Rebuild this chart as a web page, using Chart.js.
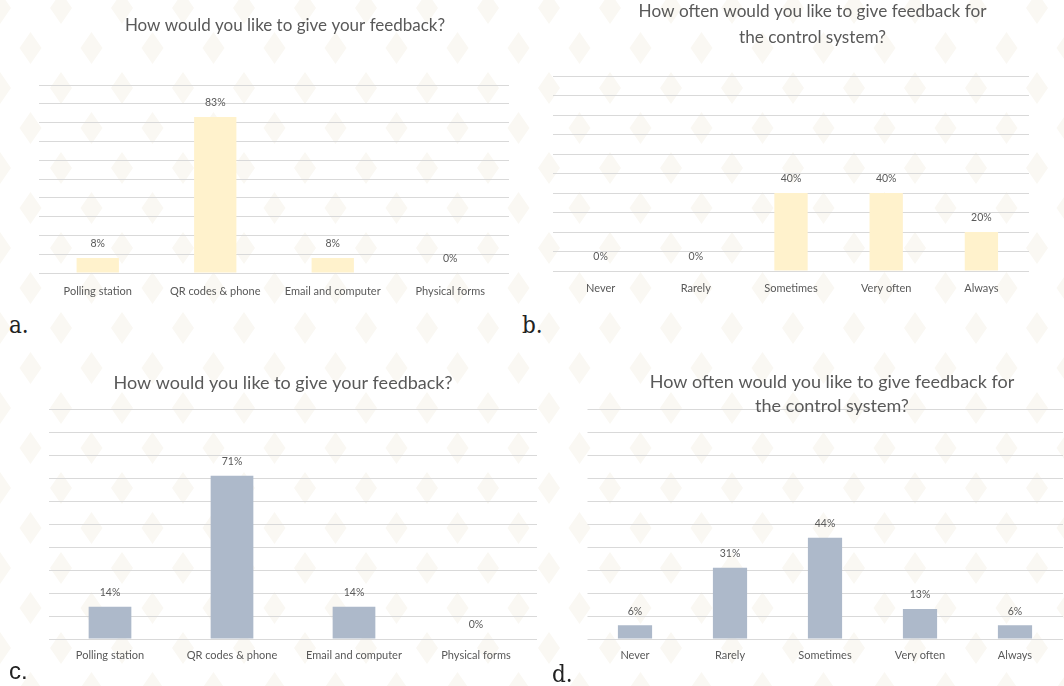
<!DOCTYPE html>
<html>
<head>
<meta charset="utf-8">
<script src="https://cdn.jsdelivr.net/npm/chart.js@4.4.0/dist/chart.umd.min.js"></script>
<style>
  html, body { margin: 0; padding: 0; width: 1064px; height: 686px; overflow: hidden; }
  body {
    position: relative;
    background-color: #fff;
    background-image: url("data:image/svg+xml,%3Csvg xmlns='http://www.w3.org/2000/svg' width='61' height='80'%3E%3Cg fill='%23faf8f3'%3E%3Cpath d='M0 -8L11 8L0 24L-11 8Z'/%3E%3Cpath d='M61 -8L72 8L61 24L50 8Z'/%3E%3Cpath d='M0 72L11 88L0 104L-11 88Z'/%3E%3Cpath d='M61 72L72 88L61 104L50 88Z'/%3E%3Cpath d='M30.5 32L41.5 48L30.5 64L19.5 48Z'/%3E%3C/g%3E%3C/svg%3E");
  }
  canvas { position: absolute; }
  .tag { position: absolute; font-size: 24px; line-height: 1; color: #222; }
  .serif { font-family: "DejaVu Serif Condensed", "DejaVu Serif", serif; }
  .sans { font-family: "Liberation Sans", Arial, sans-serif; }
</style>
</head>
<body>
<canvas id="chartA" width="532" height="310" style="left:0px; top:0px;"></canvas>
<canvas id="chartB" width="560" height="330" style="left:532px; top:-20px;"></canvas>
<canvas id="chartC" width="545" height="343" style="left:0px; top:343px;"></canvas>
<canvas id="chartD" width="550" height="343" style="left:532px; top:343px;"></canvas>

<div class="tag serif" style="left:9px; top:313px;">a.</div>
<div class="tag serif" style="left:522px; top:313px;">b.</div>
<div class="tag sans" style="left:9px; top:659px;">c.</div>
<div class="tag serif" style="left:552px; top:662px;">d.</div>

<script>
// survey answers, in percent
const channelLabels = ['Polling station', 'QR codes & phone', 'Email and computer', 'Physical forms'];
const frequencyLabels = ['Never', 'Rarely', 'Sometimes', 'Very often', 'Always'];

const aValues = [8, 83, 8, 0];
const bValues = [0, 0, 40, 40, 20];
const cValues = [14, 71, 14, 0];
const dValues = [6, 31, 44, 13, 6];

const channelTitle = 'How would you like to give your feedback?';
const frequencyTitle = ['How often would you like to give feedback for', 'the control system?'];

const yMax = 100;
const yStep = 10;

const yellow = '#fff2cc';
const slate = '#adb9ca';
const textGray = '#595959';

// percent label above each bar
const barValueLabels = {
  id: 'barValueLabels',
  afterDatasetsDraw(chart) {
    const ctx = chart.ctx;
    const values = chart.data.datasets[0].data;
    ctx.save();
    ctx.font = '10.5px Lato';
    ctx.fillStyle = textGray;
    ctx.textAlign = 'center';
    ctx.textBaseline = 'middle';
    chart.getDatasetMeta(0).data.forEach((bar, i) => {
      ctx.fillText(values[i] + '%', bar.x, bar.y - 14);
    });
    ctx.restore();
  }
};

function makeChart(id, labels, values, color, title, g) {
  return new Chart(document.getElementById(id), {
    type: 'bar',
    data: {
      labels: labels,
      datasets: [{
        data: values,
        backgroundColor: color,
        barPercentage: g.bar,
        categoryPercentage: 1
      }]
    },
    options: {
      responsive: false,
      animation: false,
      layout: { padding: g.pad },
      plugins: {
        legend: { display: false },
        tooltip: { enabled: false },
        title: {
          display: true,
          text: title,
          color: textGray,
          font: { family: 'Lato', size: g.titleSize, lineHeight: g.titleLine, weight: 'normal' },
          padding: g.titlePad
        }
      },
      scales: {
        x: {
          grid: { display: false, drawTicks: false },
          border: { display: false },
          ticks: {
            color: textGray,
            font: { family: 'Lato', size: g.tickSize },
            padding: g.tickPad,
            maxRotation: 0,
            autoSkip: false
          }
        },
        y: {
          position: g.yPos,
          min: 0,
          max: yMax,
          ticks: { display: false, stepSize: yStep },
          grid: { color: '#d9d9d9', lineWidth: 1, drawTicks: false },
          border: { display: false },
          afterFit(scale) { scale.width = g.yWidth; }
        }
      }
    },
    plugins: [barValueLabels]
  });
}

makeChart('chartA', channelLabels, aValues, yellow, channelTitle, {
  bar: 0.36, pad: { left: 39, right: 1, top: 0, bottom: 1 },
  yPos: 'right', yWidth: 22,
  titleSize: 17, titleLine: 1.2, titlePad: { top: 15, bottom: 49.6 },
  tickSize: 11, tickPad: 11.4
});

makeChart('chartB', frequencyLabels, bValues, yellow, frequencyTitle, {
  bar: 0.35, pad: { left: 21, right: 20, top: 0, bottom: 5 },
  yPos: 'right', yWidth: 43,
  titleSize: 17.2, titleLine: 26 / 17.2, titlePad: { top: 18, bottom: 26 },
  tickSize: 11, tickPad: 10.4
});

makeChart('chartC', channelLabels, cValues, slate, channelTitle, {
  bar: 0.35, pad: { left: 29, right: 8, top: 0, bottom: 15 },
  yPos: 'left', yWidth: 20,
  titleSize: 18, titleLine: 1.2, titlePad: { top: 29, bottom: 15.4 },
  tickSize: 11, tickPad: 9.4
});

makeChart('chartD', frequencyLabels, dValues, slate, frequencyTitle, {
  bar: 0.36, pad: { left: 55.5, right: 5.5, top: 0, bottom: 15 },
  yPos: 'right', yWidth: 14,
  titleSize: 18, titleLine: 24 / 18, titlePad: { top: 27, bottom: -9 },
  tickSize: 11, tickPad: 9.4
});
</script>
</body>
</html>
